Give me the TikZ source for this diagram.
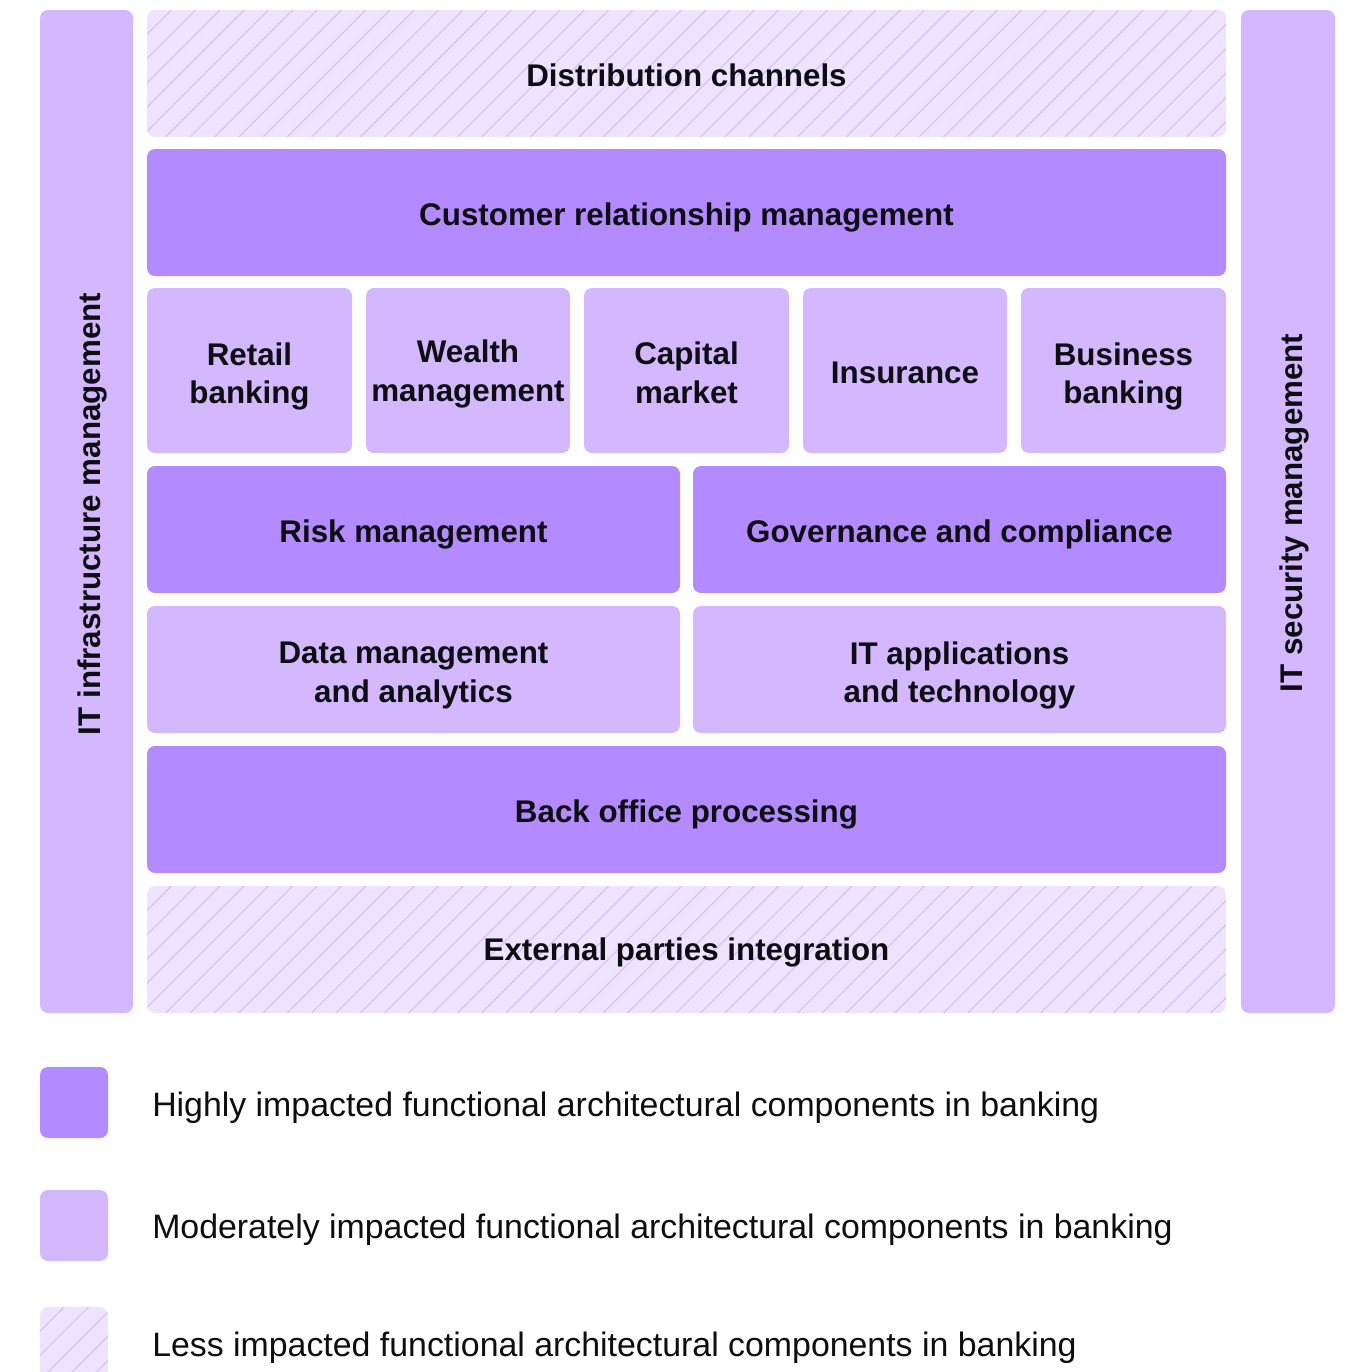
\documentclass[tikz,border=0pt]{standalone}
\usepackage{fontspec}
\setmainfont{Liberation Sans}
\definecolor{hi}{HTML}{B38AFF}
\definecolor{mid}{HTML}{D3B8FF}
\definecolor{lo}{HTML}{EFE4FF}
\definecolor{hatchc}{HTML}{D6C1FF}
\definecolor{ink}{HTML}{0D0D12}

% light box filled with thin diagonal hatching: x0,y0,x1,y1
\newcommand\hatchbox[4]{%
  \begin{scope}
    \clip[rounded corners=6pt] (#1,#2) rectangle (#3,#4);
    \fill[lo] (#1,#2) rectangle (#3,#4);
    \pgfmathsetmacro\hh{#4-#2}
    \foreach \k in {0,...,60}{%
      \pgfmathsetmacro\xs{#1-\hh+\k*24.3}
      \draw[hatchline] (\xs,#4) -- ++(\hh,-\hh);
    }
  \end{scope}}

\begin{document}
\begin{tikzpicture}[x=0.75pt,y=-0.75pt,
  hibox/.style={fill=hi, rounded corners=6pt},
  midbox/.style={fill=mid, rounded corners=6pt},
  hatchline/.style={draw=hatchc, line width=0.9pt},
  lbl/.style={font=\bfseries\fontsize{23.5}{29}\selectfont, text=ink, inner sep=0pt, align=center},
  onel/.style={lbl, anchor=base},
  legtxt/.style={font=\fontsize{25.4}{30}\selectfont, text=ink, inner sep=0pt, anchor=base west},
]
\useasboundingbox (0,0) rectangle (1352,1372);

% side columns
\fill[midbox] (40,10) rectangle (133,1013);
\fill[midbox] (1241,10) rectangle (1335,1013);
\node[lbl, rotate=90, anchor=base] (infra) at (100,514) {IT infrastructure management};
\node[lbl, rotate=90, anchor=base] (secu) at (1302,513) {IT security management};

% top and bottom layers (less impacted)
\hatchbox{147}{10}{1226}{137}
\node[onel] (dist) at (686.5,86.5) {Distribution channels};
\hatchbox{147}{886}{1226}{1013}
\node[onel] (ext) at (686.5,960.5) {External parties integration};

% customer relationship layer
\fill[hibox] (147,149) rectangle (1226,276);
\node[onel] (crm) at (686.5,225) {Customer relationship management};

% business lines
\fill[midbox] (147,288) rectangle (352,453);
\fill[midbox] (366,288) rectangle (570,453);
\fill[midbox] (584,288) rectangle (789,453);
\fill[midbox] (803,288) rectangle (1007,453);
\fill[midbox] (1021,288) rectangle (1226,453);
\node[lbl] (retail) at (249.5,376.5) {Retail\\banking};
\node[lbl] (wealth) at (468,374) {Wealth\\management};
\node[lbl] (capital) at (686.5,373) {Capital\\market};
\node[onel] (insur) at (905,383) {Insurance};
\node[lbl] (business) at (1123.5,376.5) {Business\\banking};

% risk and governance
\fill[hibox] (147,466) rectangle (680,593);
\fill[hibox] (693,466) rectangle (1226,593);
\node[onel] (risk) at (413.5,542) {Risk management};
\node[onel] (gov) at (959.5,542) {Governance and compliance};

% data and IT
\fill[midbox] (147,606) rectangle (680,733);
\fill[midbox] (693,606) rectangle (1226,733);
\node[lbl] (data) at (413.5,675.5) {Data management\\and analytics};
\node[lbl] (itapp) at (959.5,675.5) {IT applications\\and technology};

% back office
\fill[hibox] (147,746) rectangle (1226,873);
\node[onel] (back) at (686.5,822) {Back office processing};

% legend
\fill[hibox] (40,1067) rectangle (108,1138);
\node[legtxt] (leghi) at (152,1116) {Highly impacted functional architectural components in banking};
\fill[midbox] (40,1190) rectangle (108,1261);
\node[legtxt] (legmid) at (152,1238) {Moderately impacted functional architectural components in banking};
\begin{scope}
  \clip (0,0) rectangle (1352,1372);
  \hatchbox{40}{1307}{108}{1378}
\end{scope}
\node[legtxt] (leglo) at (152,1356) {Less impacted functional architectural components in banking};
\end{tikzpicture}
\end{document}
